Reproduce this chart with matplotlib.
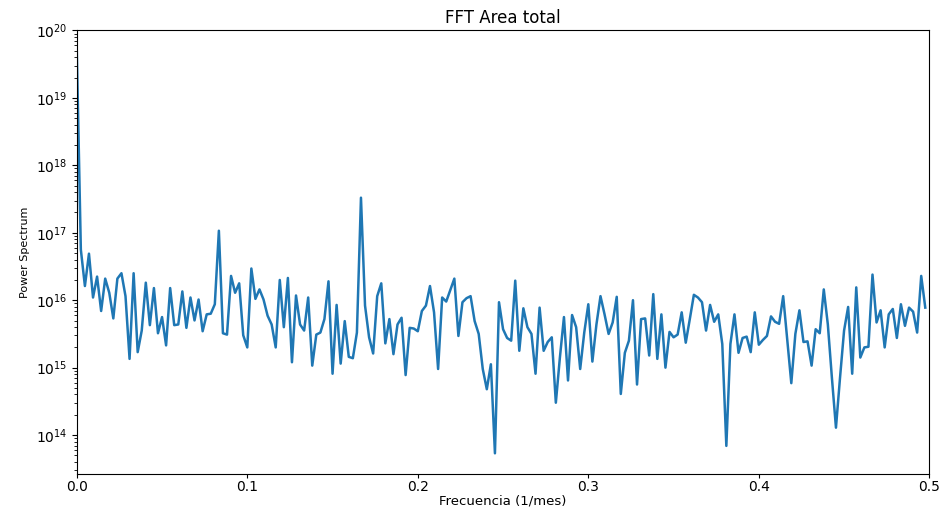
import numpy as np
import matplotlib
matplotlib.use("Agg")
from matplotlib import pyplot as plt

# monthly series of 420 months -> positive FFT frequencies
n_months = 420

# log10 of the power spectrum (k = 0 .. 209)
log_power = [
    19.70, 16.75, 16.21, 16.69, 16.04, 16.35, 15.84, 16.32, 16.11, 15.73,
    16.32, 16.40, 16.06, 15.13, 16.40, 15.23, 15.55, 16.26, 15.63, 16.18,
    15.51, 15.75, 15.33, 16.18, 15.63, 15.64, 16.13, 15.59, 16.04, 15.70,
    16.01, 15.54, 15.79, 15.80, 15.94, 17.03, 15.51, 15.49, 16.36, 16.11,
    16.25, 15.48, 15.30, 16.47, 16.02, 16.16, 16.01, 15.77, 15.64, 15.30,
    16.30, 15.60, 16.33, 15.08, 16.07, 15.64, 15.55, 16.04, 15.03, 15.49,
    15.52, 15.72, 16.28, 14.91, 15.93, 15.06, 15.69, 15.16, 15.14, 15.52,
    17.52, 15.92, 15.45, 15.21, 16.06, 16.25, 15.36, 15.72, 15.20, 15.64,
    15.74, 14.89, 15.59, 15.58, 15.54, 15.84, 15.92, 16.21, 15.82, 14.98,
    16.04, 15.98, 16.15, 16.32, 15.47, 15.97, 16.03, 16.06, 15.69, 15.50,
    14.98, 14.68, 15.05, 13.73, 15.97, 15.57, 15.44, 15.40, 16.29, 15.25,
    15.88, 15.60, 15.50, 14.91, 15.89, 15.25, 15.38, 15.45, 14.48, 15.15,
    15.75, 14.81, 15.78, 15.60, 14.98, 15.52, 15.94, 15.09, 15.64, 16.06,
    15.79, 15.50, 15.67, 16.05, 14.61, 15.22, 15.40, 16.00, 14.75, 15.72,
    15.73, 15.18, 16.09, 15.13, 15.79, 15.00, 15.53, 15.45, 15.49, 15.82,
    15.37, 15.72, 16.08, 16.04, 15.97, 15.55, 15.93, 15.68, 15.79, 15.35,
    13.84, 15.35, 15.79, 15.22, 15.44, 15.46, 15.23, 15.82, 15.34, 15.41,
    15.47, 15.76, 15.68, 15.65, 16.06, 15.42, 14.77, 15.50, 15.85, 15.38,
    15.39, 15.03, 15.57, 15.51, 16.16, 15.64, 14.85, 14.11, 14.85, 15.55,
    15.90, 14.91, 16.19, 15.15, 15.30, 15.31, 16.38, 15.67, 15.85, 15.30,
    15.79, 15.87, 15.44, 15.94, 15.62, 15.89, 15.83, 15.52, 16.36, 15.89,
]

power = 10 ** np.array(log_power)
freq = np.fft.fftfreq(n_months)[:len(power)]

fig = plt.figure(figsize=(9.41, 5.07), dpi=100)
ax = fig.add_axes([0.0816, 0.066, 0.906, 0.874])

ax.plot(freq, power, color='#1f77b4', linewidth=1.8)
ax.set_yscale('log')
ax.set_xlim(0, 0.5)
ax.set_ylim(10 ** 13.43, 1e20)
ax.set_yticks([10.0 ** e for e in range(14, 21)])

ax.set_title('FFT Area total', fontsize=12, pad=5)
ax.set_xlabel('Frecuencia (1/mes)', fontsize=9.5, labelpad=0)
ax.set_ylabel('Power Spectrum', fontsize=8, labelpad=4)
ax.tick_params(labelsize=10)
ax.tick_params(axis='x', pad=2, length=3)

fig.savefig('out.png', dpi=100)
